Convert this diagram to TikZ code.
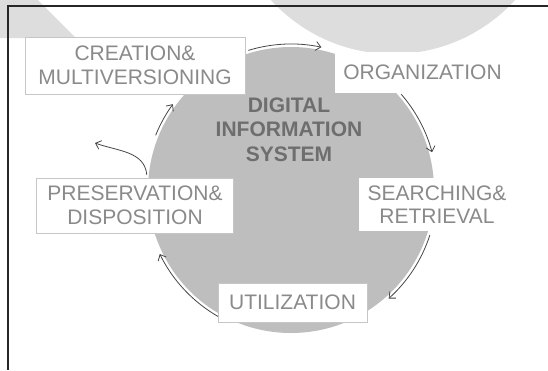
\documentclass[tikz,border=0pt]{standalone}
\usepackage{fontspec}
\setmainfont{Liberation Sans}
\usetikzlibrary{arrows.meta,calc}
\definecolor{disc}{RGB}{190,190,190}
\definecolor{wmark}{RGB}{221,221,221}
\definecolor{lbl}{RGB}{138,138,138}
\definecolor{hubtxt}{RGB}{110,110,110}
\definecolor{arr}{RGB}{70,70,70}

\begin{document}
\begin{tikzpicture}[x=1pt,y=1pt,
  stage/.style={draw=gray!45,line width=0.5pt,fill=white,text=lbl,align=center,inner sep=0pt,
    font=\fontsize{21}{23.5}\selectfont},
  plainstage/.style={stage,draw=none},
  hubtext/.style={text=hubtxt,align=center,font=\bfseries\fontsize{21}{24.5}\selectfont},
  cyclearrow/.style={draw=arr,line width=0.8pt,-{Straight Barb[length=5pt,width=9pt]}}]
\useasboundingbox (0,0) rectangle (548,-370);

\fill[wmark] (393,111) circle (165);
\fill[wmark] (0,0) -- (38,0) -- (76,-38) -- (0,-38) -- cycle;
\draw[line width=1.4pt,black!85] (548,-6) -- (8,-6) -- (8,-370);

\node[circle,fill=disc,minimum size=286pt,inner sep=0pt] (sys) at (291,-190) {};
\node[hubtext] (dis) at (289,-129.5) {DIGITAL\\INFORMATION\\SYSTEM};

\node[stage,minimum width=220pt,minimum height=57pt] (creation) at (135,-65.5) {CREATION\&\\MULTIVERSIONING};
\node[plainstage,minimum width=175pt,minimum height=41pt] (organization) at (422.5,-72.5) {ORGANIZATION};
\node[plainstage,minimum width=156pt,minimum height=53pt] (searching) at (437,-204.5) {SEARCHING\&\\RETRIEVAL};
\node[stage,minimum width=197pt,minimum height=55pt] (preservation) at (135,-205.5) {PRESERVATION\&\\DISPOSITION};
\node[stage,minimum width=149pt,minimum height=39pt] (utilization) at (292.5,-302.5) {UTILIZATION};

\coordinate (t1) at ($(sys.center)+(107:146)$);
\coordinate (r1) at ($(sys.center)+(41:146)$);
\coordinate (r2) at ($(sys.center)+(-18:146)$);
\coordinate (b1) at ($(sys.center)+(240:146)$);
\coordinate (l1) at ($(sys.center)+(158:146)$);
\coordinate (l2) at ($(sys.center)+(174:145)$);
\coordinate (away) at (95,-143);

\draw[cyclearrow] (t1) arc[start angle=107,end angle=78,radius=146];
\draw[cyclearrow] (r1) arc[start angle=41,end angle=15,radius=146];
\draw[cyclearrow] (r2) arc[start angle=-18,end angle=-48,radius=146];
\draw[cyclearrow] (b1) arc[start angle=240,end angle=206,radius=146];
\draw[cyclearrow] (l1) arc[start angle=158,end angle=144,radius=146];
\draw[cyclearrow] (l2) to[out=95,in=-20] (away);
\end{tikzpicture}
\end{document}
